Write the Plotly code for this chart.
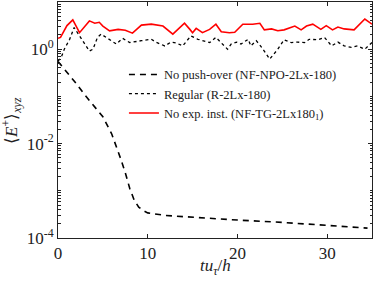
import plotly.graph_objects as go

# NF-NPO-2Lx-180 (no push-over)
t_npo = [0, 0.5, 1, 2, 3, 4, 5, 6, 6.5, 7, 7.5, 8, 8.5, 9, 9.5, 10, 12, 15, 20, 25, 30, 34.5]
e_npo = [0.55, 0.42, 0.34, 0.19, 0.107, 0.063, 0.037, 0.0158, 0.0089, 0.0047, 0.0024, 0.00112,
         0.00063, 0.00045, 0.00038, 0.00034, 0.0003, 0.000275, 0.00024, 0.000214, 0.000186, 0.000162]

# R-2Lx-180 (regular), log10 values
t_reg = [0, 0.35, 0.7, 1.3, 1.8, 2.4, 3.1, 3.5, 3.9, 4.4, 4.8, 5.75, 6.5, 7.2, 8.0, 9.3, 10.4,
         10.9, 11.9, 12.6, 13.2, 13.9, 14.8, 15.6, 16.1, 16.9, 17.6, 18.2, 18.9, 19.3, 19.9, 20.4,
         21.2, 21.5, 22.1, 22.7, 23.6, 24.5, 25.2, 26.0, 26.7, 27.5, 28.0, 29.0, 29.7, 30.5, 31.2,
         31.9, 32.7, 33.4, 34.2, 35.0]
lg_reg = [-0.25, -0.18, 0.0, 0.21, 0.46, 0.28, 0.07, -0.04, 0.0, 0.25, 0.32, 0.21, 0.11, 0.23,
          0.14, 0.18, 0.21, 0.15, 0.07, 0.15, 0.13, 0.07, 0.28, 0.21, 0.18, 0.14, 0.25, 0.14, 0.0,
          0.11, 0.15, 0.11, 0.21, 0.07, 0.18, 0.04, -0.21, 0.0, 0.2, 0.14, 0.15, 0.14, 0.21, 0.2,
          0.25, 0.07, 0.15, 0.07, 0.04, 0.07, 0.0, 0.14]

# NF-TG-2Lx180_1 (no exp. inst.), log10 values
t_tg = [0, 0.28, 1.0, 1.65, 2.4, 3.5, 4.1, 4.6, 5.0, 5.75, 6.7, 7.5, 8.3, 9.3, 10.4, 11.3, 11.7,
        12.8, 14.1, 14.7, 15.0, 15.4, 16.1, 16.9, 17.6, 18.2, 19.1, 19.7, 20.6, 21.7, 22.5, 23.0,
        23.8, 24.5, 25.2, 26.4, 27.1, 27.7, 28.4, 29.3, 29.9, 30.6, 31.2, 31.9, 33.0, 34.2, 35.0]
lg_tg = [0.23, 0.25, 0.5, 0.62, 0.35, 0.6, 0.55, 0.57, 0.49, 0.39, 0.42, 0.40, 0.34, 0.51, 0.53,
         0.51, 0.49, 0.32, 0.55, 0.42, 0.35, 0.44, 0.35, 0.42, 0.53, 0.37, 0.35, 0.36, 0.53, 0.53,
         0.55, 0.41, 0.43, 0.39, 0.41, 0.49, 0.41, 0.49, 0.53, 0.42, 0.5, 0.41, 0.47, 0.43, 0.41,
         0.64, 0.53]

names = ["No push-over (NF-NPO-2Lx-180)", "Regular (R-2Lx-180)",
         "No exp. inst. (NF-TG-2Lx180<sub>1</sub>)"]

ytickvals = [1e-4, 1e-2, 1e0]
yticktext = ["10<sup>-4</sup>", "10<sup>-2</sup>", "10<sup>0</sup>"]
yminor = [m * 10 ** e for e in range(-4, 1) for m in range(2, 11) if not (m == 10 and e % 2 == 1)]
xtickvals = [0, 10, 20, 30]

fig = go.Figure()
fig.add_trace(go.Scatter(x=t_npo, y=e_npo, mode="lines", name=names[0],
                         line=dict(color="black", width=1.6, dash="6px,5px")))
fig.add_trace(go.Scatter(x=t_reg, y=[10 ** v for v in lg_reg], mode="lines", name=names[1],
                         line=dict(color="black", width=1.3, dash="dot")))
fig.add_trace(go.Scatter(x=t_tg, y=[10 ** v for v in lg_tg], mode="lines", name=names[2],
                         line=dict(color="red", width=1.6)))

font = "Liberation Serif, Times New Roman, serif"
fig.update_layout(
    width=374, height=285,
    margin=dict(l=58, r=2, t=2, b=47),
    paper_bgcolor="white", plot_bgcolor="white",
    hovermode=False,
    font=dict(family=font, color="#222", size=16),
    legend=dict(x=0.21, y=0.755, xanchor="left", yanchor="top",
                bgcolor="rgba(0,0,0,0)", font=dict(size=12.5, family=font, color="#222"),
                tracegroupgap=0, itemwidth=30),
    showlegend=True,
    annotations=[
        dict(text="<i>tu</i><sub><i>τ</i></sub>/<i>h</i>", xref="paper", yref="paper",
             x=0.50, y=-0.066, xanchor="center", yanchor="top", showarrow=False,
             font=dict(size=17, family=font, color="#222")),
        dict(text="⟨<i>E</i><sup>+</sup>⟩<sub><i>xyz</i></sub>", xref="paper", yref="paper",
             x=-0.15, y=0.5, xanchor="center", yanchor="middle", textangle=-90,
             showarrow=False, font=dict(size=17, family=font, color="#222")),
    ],
)
fig.update_xaxes(range=[0, 35], tickvals=xtickvals, ticks="inside", ticklen=4,
                 tickcolor="#222", automargin=False,
                 showline=True, linecolor="#222", linewidth=1, mirror="allticks",
                 showgrid=False, zeroline=False,
                 tickfont=dict(size=17, family=font, color="#222"))
fig.update_yaxes(type="log", range=[-4, 1], tickvals=ytickvals, ticktext=yticktext,
                 ticks="inside", ticklen=4, tickcolor="#222", automargin=False,
                 minor=dict(tickmode="array", tickvals=yminor, ticks="inside", ticklen=2.5,
                            tickcolor="#222", showgrid=False),
                 showline=True, linecolor="#222", linewidth=1, mirror="allticks",
                 showgrid=False, zeroline=False,
                 tickfont=dict(size=17, family=font, color="#222"))

fig.write_html("out.html", config={"displayModeBar": False, "staticPlot": True},
               post_script="document.body.style.margin='0';document.body.style.overflow='hidden';")
